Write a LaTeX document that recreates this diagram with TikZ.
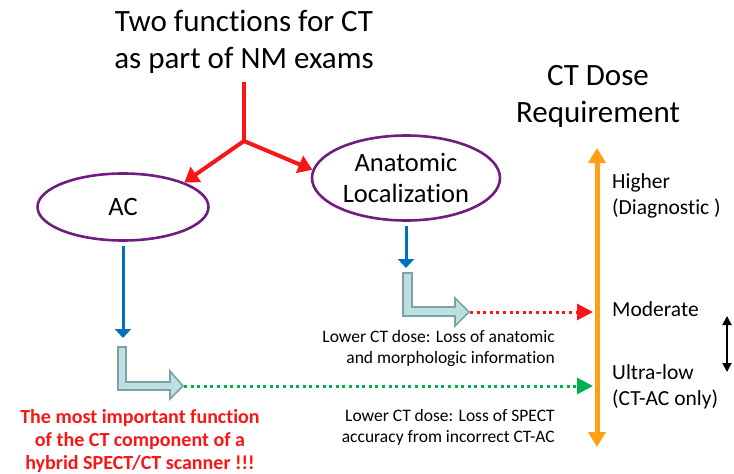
\documentclass[tikz,border=0pt]{standalone}
\usepackage{fontspec}
\setmainfont{Carlito}[Ligatures=NoCommon]
\usepackage{tikz}
\usetikzlibrary{shapes.geometric}
\usetikzlibrary{arrows.meta}
\usetikzlibrary{positioning}
\usepackage{color}
\definecolor{plum}{RGB}{112, 28, 128}
\definecolor{ocean}{RGB}{0, 112, 192}
\definecolor{tangerine}{RGB}{255, 160, 20}
\definecolor{emerald}{RGB}{0, 176, 80}
\definecolor{scarlet}{RGB}{250, 22, 22}
\definecolor{seafoam}{RGB}{188, 224, 226}
\definecolor{slate}{RGB}{128, 160, 162}

\tikzset{
    headline/.style={align=center, inner sep=0pt, font=\fontsize{31}{37}\selectfont},
    func/.style={ellipse, draw=plum, line width=2.6pt, inner sep=0pt, align=center,
                 font=\fontsize{26.5}{31}\selectfont},
    dosetext/.style={align=left, inner sep=0pt, font=\fontsize{21.5}{26}\selectfont},
    remark/.style={align=right, inner sep=0pt, font=\fontsize{17.5}{21}\selectfont},
    forkarrow/.style={color=scarlet, line width=4pt, -{Triangle[width=18pt,length=14pt]}},
    bluearrow/.style={color=ocean, line width=3pt, -{Triangle[width=16pt,length=9pt]}},
    lossarrow/.style={line width=3pt, dash pattern=on 3pt off 3.6pt, -{Triangle[width=16pt,length=16pt]}},
    elbowarrow/.style={draw=slate, fill=seafoam, line width=1.6pt, line join=miter},
}

\begin{document}
\begin{tikzpicture}[x=1pt, y=-1pt]
            \useasboundingbox (0, 0) rectangle (734, 474);
            % Titles
            \node[headline]                          (title) at (244,  42) {Two functions for CT\\as part of NM exams};
            \node[headline]                          (dose)  at (598,  96) {CT Dose\\Requirement};
            % The two functions
            \node[func, minimum width=171, minimum height=67] (ac)   at (123, 207) {AC};
            \node[func, minimum width=188, minimum height=85] (anat) at (406, 178) {Anatomic\\Localization};
            % Red fork
            \coordinate (stem) at (244,  82);
            \coordinate (fork) at (244, 141);
            \draw[color=scarlet, line width=4pt]       (stem) -- (fork);
            \draw[forkarrow]                           (fork) -- (ac.north east);
            \draw[forkarrow]                           (fork) -- (anat.175);
            % Blue arrows
            \coordinate (acdown)   at (123, 338);
            \coordinate (anatdown) at (406, 268);
            \draw[bluearrow] ([yshift=-4pt]ac.south)   -- (acdown);
            \draw[bluearrow] ([yshift=-4pt]anat.south) -- (anatdown);
            % Bent block arrows
            \draw[elbowarrow] (118, 347) -- (126, 347) -- (126, 382) -- (170, 382) -- (170, 371)
                        -- (183, 386) -- (170, 399) -- (170, 390) -- (118, 390) -- cycle;
            \draw[elbowarrow] (403, 273) -- (412, 273) -- (412, 307) -- (455, 307) -- (455, 298)
                        -- (469, 312) -- (455, 326) -- (455, 316) -- (403, 316) -- cycle;
            \coordinate (actip)   at (184, 386);
            \coordinate (anattip) at (470, 312);
            % Dose scale
            \coordinate (scaletop) at (597, 148);
            \coordinate (scalebot) at (597, 447);
            \draw[color=tangerine, line width=5pt, {Triangle[width=17pt,length=15pt]}-{Triangle[width=17pt,length=15pt]}]
                 (scaletop) -- (scalebot);
            \node[dosetext, anchor=west]      (higher)   at (612, 196) {Higher\\(Diagnostic )};
            \node[dosetext, anchor=base west] (moderate) at (612, 316) {Moderate};
            \node[dosetext, anchor=west]      (ultralow) at (612, 387) {Ultra-low\\(CT-AC only)};
            \coordinate (modin)   at (593, 312);
            \coordinate (ultrain) at (593, 386);
            % Dotted loss arrows
            \draw[lossarrow, color=scarlet] (anattip) -- (modin);
            \draw[lossarrow, color=emerald] (actip)   -- (ultrain);
            \node[remark, anchor=east] (anatloss) at (555, 348) {Lower CT dose: Loss of anatomic\\and morphologic information};
            \node[remark, anchor=east] (acloss)   at (555, 427) {Lower CT dose: Loss of SPECT\\accuracy from incorrect CT-AC};
            % Small range arrow
            \coordinate (rangetop) at (727, 316);
            \coordinate (rangebot) at (727, 372);
            \draw[line width=1.8pt, {Triangle[width=9pt,length=9pt]}-{Triangle[width=9pt,length=9pt]}] (rangetop) -- (rangebot);
            % Note under AC
            \node[align=center, inner sep=0pt, color=scarlet, font=\fontsize{20}{23}\selectfont\bfseries]
                 (note) at (140, 441) {The most important function\\of the CT component of a\\hybrid SPECT/CT scanner !!!};
        \end{tikzpicture}
\end{document}
